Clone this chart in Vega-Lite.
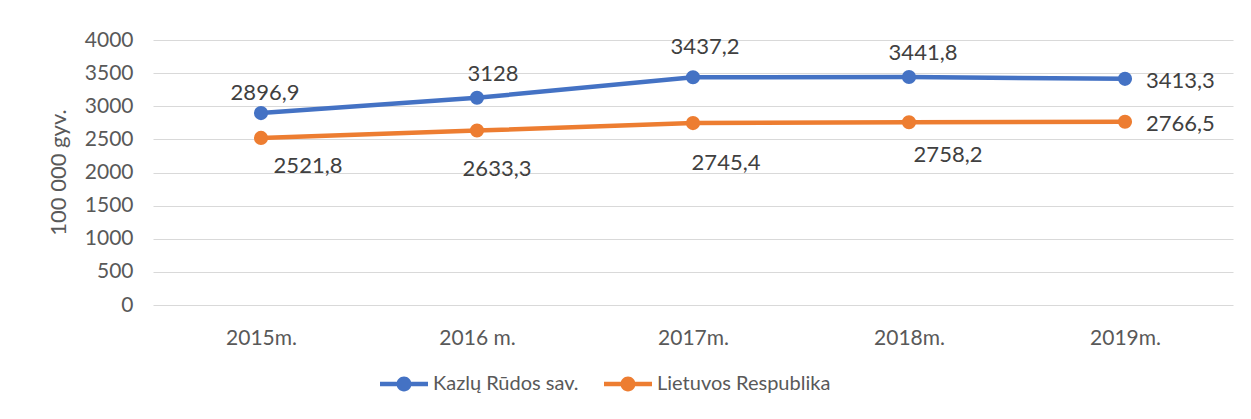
{
  "$schema": "https://vega.github.io/schema/vega-lite/v6.json",
  "width": 1080,
  "height": 265,
  "autosize": {"type": "none"},
  "padding": {"left": 153, "top": 40, "right": 18, "bottom": 114},
  "background": "white",
  "config": {
    "locale": {"number": {"decimal": ",", "thousands": "", "grouping": [3], "currency": ["", ""]}},
    "view": {"stroke": null},
    "font": "Lato"
  },
  "data": {
    "values": [
      {"year": "2015m.", "series": "Kazlų Rūdos sav.", "value": 2896.9},
      {"year": "2016 m.", "series": "Kazlų Rūdos sav.", "value": 3128},
      {"year": "2017m.", "series": "Kazlų Rūdos sav.", "value": 3437.2},
      {"year": "2018m.", "series": "Kazlų Rūdos sav.", "value": 3441.8},
      {"year": "2019m.", "series": "Kazlų Rūdos sav.", "value": 3413.3},
      {"year": "2015m.", "series": "Lietuvos Respublika", "value": 2521.8},
      {"year": "2016 m.", "series": "Lietuvos Respublika", "value": 2633.3},
      {"year": "2017m.", "series": "Lietuvos Respublika", "value": 2745.4},
      {"year": "2018m.", "series": "Lietuvos Respublika", "value": 2758.2},
      {"year": "2019m.", "series": "Lietuvos Respublika", "value": 2766.5}
    ]
  },
  "encoding": {
    "x": {
      "field": "year", "type": "nominal", "sort": null,
      "scale": {"type": "point", "padding": 0.5},
      "axis": {"title": null, "domain": false, "ticks": false, "grid": false, "labelPadding": 22, "labelFontSize": 21, "labelColor": "#595959", "labelAngle": 0}
    },
    "y": {
      "field": "value", "type": "quantitative",
      "scale": {"domain": [0, 4000], "nice": false},
      "axis": {
        "values": [0, 500, 1000, 1500, 2000, 2500, 3000, 3500, 4000],
        "format": "d", "domain": false, "ticks": false, "labelPadding": 20,
        "labelFontSize": 21, "labelColor": "#595959",
        "gridColor": "#d9d9d9", "gridWidth": 1,
        "title": "100 000 gyv.", "titleFontSize": 22, "titleFontWeight": "normal", "titleColor": "#595959",
        "titleX": -95, "titleY": 132, "titleAngle": -90, "titleAlign": "center", "titleBaseline": "middle"
      }
    }
  },
  "layer": [
    {
      "encoding": {
        "color": {
          "field": "series", "type": "nominal",
          "scale": {"domain": ["Kazlų Rūdos sav.", "Lietuvos Respublika"], "range": ["#4472C4", "#ED7D31"]},
          "legend": {
            "orient": "none", "legendX": 227, "legendY": 320, "direction": "horizontal",
            "title": null, "padding": 0,
            "symbolType": "M-1,-0.09L1,-0.09L1,0.09L-1,0.09ZM0.31,0A0.31,0.31,0,1,1,-0.31,0A0.31,0.31,0,1,1,0.31,0Z",
            "symbolSize": 2304, "symbolStrokeWidth": 0, "symbolOpacity": 1,
            "labelFontSize": 20, "labelColor": "#595959", "labelOffset": 5, "columnPadding": 25, "labelLimit": 400,
            "encode": {"symbols": {"update": {"fill": {"scale": "color", "field": "value"}, "strokeWidth": {"value": 0}, "opacity": {"value": 1}}}}
          }
        }
      },
      "layer": [
        {"mark": {"type": "line", "strokeWidth": 4.5}},
        {"mark": {"type": "point", "filled": true, "size": 200, "opacity": 1}}
      ]
    },
    {
      "transform": [{"filter": {"and": [{"field": "series", "equal": "Kazlų Rūdos sav."}, {"field": "year", "equal": "2015m."}]}}],
      "mark": {"type": "text", "fontSize": 22, "color": "#404040", "align": "center", "baseline": "middle", "dx": 4, "dy": -20},
      "encoding": {"text": {"field": "value", "type": "quantitative", "format": ".1~f"}}
    },
    {
      "transform": [{"filter": {"and": [{"field": "series", "equal": "Kazlų Rūdos sav."}, {"field": "year", "equal": "2016 m."}]}}],
      "mark": {"type": "text", "fontSize": 22, "color": "#404040", "align": "center", "baseline": "middle", "dx": 16, "dy": -24},
      "encoding": {"text": {"field": "value", "type": "quantitative", "format": ".1~f"}}
    },
    {
      "transform": [{"filter": {"and": [{"field": "series", "equal": "Kazlų Rūdos sav."}, {"field": "year", "equal": "2017m."}]}}],
      "mark": {"type": "text", "fontSize": 22, "color": "#404040", "align": "center", "baseline": "middle", "dx": 12, "dy": -30},
      "encoding": {"text": {"field": "value", "type": "quantitative", "format": ".1~f"}}
    },
    {
      "transform": [{"filter": {"and": [{"field": "series", "equal": "Kazlų Rūdos sav."}, {"field": "year", "equal": "2018m."}]}}],
      "mark": {"type": "text", "fontSize": 22, "color": "#404040", "align": "center", "baseline": "middle", "dx": 14, "dy": -24},
      "encoding": {"text": {"field": "value", "type": "quantitative", "format": ".1~f"}}
    },
    {
      "transform": [{"filter": {"field": "year", "equal": "2019m."}}],
      "mark": {"type": "text", "fontSize": 22, "color": "#404040", "align": "left", "baseline": "middle", "dx": 21, "dy": 2},
      "encoding": {"text": {"field": "value", "type": "quantitative", "format": ".1~f"}}
    },
    {
      "transform": [{"filter": {"and": [{"field": "series", "equal": "Lietuvos Respublika"}, {"field": "year", "equal": "2015m."}]}}],
      "mark": {"type": "text", "fontSize": 22, "color": "#404040", "align": "center", "baseline": "middle", "dx": 47, "dy": 28},
      "encoding": {"text": {"field": "value", "type": "quantitative", "format": ".1~f"}}
    },
    {
      "transform": [{"filter": {"and": [{"field": "series", "equal": "Lietuvos Respublika"}, {"field": "year", "equal": "2016 m."}]}}],
      "mark": {"type": "text", "fontSize": 22, "color": "#404040", "align": "center", "baseline": "middle", "dx": 20, "dy": 38},
      "encoding": {"text": {"field": "value", "type": "quantitative", "format": ".1~f"}}
    },
    {
      "transform": [{"filter": {"and": [{"field": "series", "equal": "Lietuvos Respublika"}, {"field": "year", "equal": "2017m."}]}}],
      "mark": {"type": "text", "fontSize": 22, "color": "#404040", "align": "center", "baseline": "middle", "dx": 33, "dy": 40},
      "encoding": {"text": {"field": "value", "type": "quantitative", "format": ".1~f"}}
    },
    {
      "transform": [{"filter": {"and": [{"field": "series", "equal": "Lietuvos Respublika"}, {"field": "year", "equal": "2018m."}]}}],
      "mark": {"type": "text", "fontSize": 22, "color": "#404040", "align": "center", "baseline": "middle", "dx": 39, "dy": 33},
      "encoding": {"text": {"field": "value", "type": "quantitative", "format": ".1~f"}}
    }
  ]
}
